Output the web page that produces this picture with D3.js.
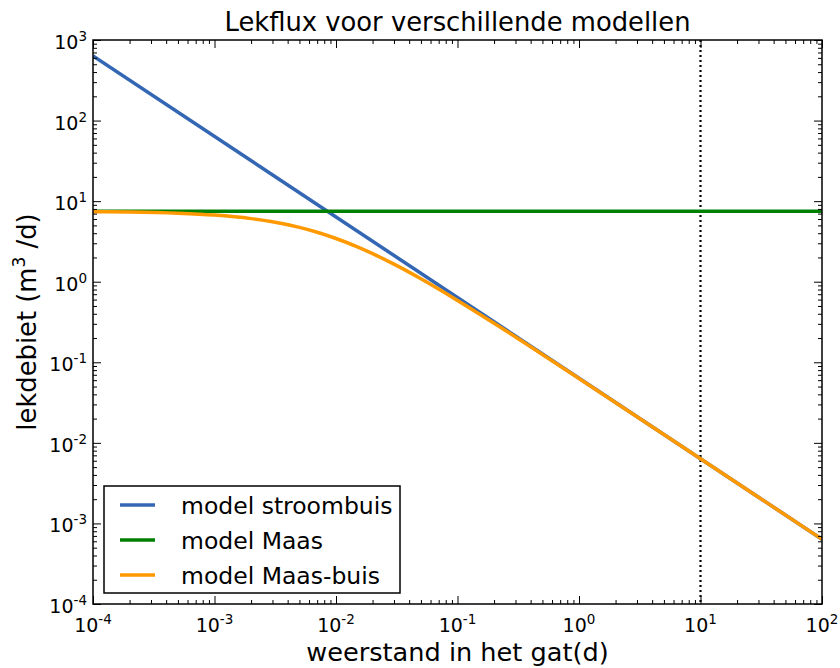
<!DOCTYPE html>
<html>
<head>
<meta charset="utf-8">
<script src="https://cdn.jsdelivr.net/npm/d3@7"></script>
<style>
  body { margin: 0; background: #fff; }
  text { font-family: "DejaVu Sans", sans-serif; fill: #000; }
</style>
</head>
<body>
<div id="graph1"></div>
<script>
// values
var xDecades = [1e-4, 1e-3, 1e-2, 1e-1, 1e0, 1e1, 1e2];
var xExp = ["-4", "-3", "-2", "-1", "0", "1", "2"];
var yDecades = [1e-4, 1e-3, 1e-2, 1e-1, 1e0, 1e1, 1e2, 1e3];
var yExp = ["-4", "-3", "-2", "-1", "0", "1", "2", "3"];

var stroomX = [1e-4, 1e2];
var stroomY = [636, 6.36e-4];

var maasX = [1e-4, 1e2];
var maasY = [7.5, 7.5];

var buisX = [1e-4, 2e-4, 5e-4, 1e-3, 2e-3, 3e-3, 5e-3, 7e-3, 1e-2, 1.5e-2, 2e-2, 3e-2, 5e-2, 0.1, 0.2, 0.5, 1, 10, 100];
var buisY = [7.41, 7.33, 7.08, 6.71, 6.07, 5.54, 4.72, 4.11, 3.44, 2.71, 2.23, 1.653, 1.088, 0.586, 0.305, 0.1251, 0.06307, 0.006355, 0.000636];

var markerX = 10;

var seriesNames = ["model stroombuis", "model Maas", "model Maas-buis"];
var colors = ["#3366b3", "#008000", "#ff9900"];

var margin = {top: 40, right: 18, bottom: 64, left: 93},
    width = 840 - margin.left - margin.right,
    height = 668 - margin.top - margin.bottom;

var svg = d3.select("#graph1")
  .append("svg")
    .attr("width", 840)
    .attr("height", 668);

var g = svg.append("g")
  .attr("transform", "translate(" + margin.left + "," + margin.top + ")");

var x = d3.scaleLog().domain([1e-4, 1e2]).range([0, width]);
var y = d3.scaleLog().domain([1e-4, 1e3]).range([height, 0]);

// minor ticks 2..9 in each decade
function minors(decs) {
  var out = [];
  decs.slice(0, -1).forEach(function(d) {
    for (var k = 2; k <= 9; k++) out.push(d * k);
  });
  return out;
}

g.append("clipPath").attr("id", "clip")
  .append("rect").attr("width", width).attr("height", height);

var plot = g.append("g").attr("clip-path", "url(#clip)");

var line = d3.line()
  .x(function(d) { return x(d[0]); })
  .y(function(d) { return y(d[1]); })
  .curve(d3.curveMonotoneX);

var series = [d3.zip(stroomX, stroomY), d3.zip(maasX, maasY), d3.zip(buisX, buisY)];

// dotted marker line
plot.append("line")
  .attr("x1", x(markerX)).attr("x2", x(markerX))
  .attr("y1", 0).attr("y2", height)
  .attr("stroke", "#000")
  .attr("stroke-width", 2.2)
  .attr("stroke-dasharray", "2,3");

series.forEach(function(s, i) {
  plot.append("path")
    .attr("d", line(s))
    .attr("fill", "none")
    .attr("stroke", colors[i])
    .attr("stroke-width", 3.5);
});

// axes: ticks pointing inward on all four sides
function styleAxis(sel) {
  sel.select(".domain").remove();
  sel.selectAll("line").attr("stroke", "#000").attr("stroke-width", 1);
  sel.selectAll("text").remove();
}

g.append("g").attr("transform", "translate(0," + height + ")")
  .call(d3.axisBottom(x).tickValues(xDecades).tickSize(-8).tickFormat("")).call(styleAxis);
g.append("g").attr("transform", "translate(0," + height + ")")
  .call(d3.axisBottom(x).tickValues(minors(xDecades)).tickSize(-4).tickFormat("")).call(styleAxis);
g.append("g")
  .call(d3.axisTop(x).tickValues(xDecades).tickSize(-8).tickFormat("")).call(styleAxis);
g.append("g")
  .call(d3.axisTop(x).tickValues(minors(xDecades)).tickSize(-4).tickFormat("")).call(styleAxis);
g.append("g")
  .call(d3.axisLeft(y).tickValues(yDecades).tickSize(-8).tickFormat("")).call(styleAxis);
g.append("g")
  .call(d3.axisLeft(y).tickValues(minors(yDecades)).tickSize(-4).tickFormat("")).call(styleAxis);
g.append("g").attr("transform", "translate(" + width + ",0)")
  .call(d3.axisRight(y).tickValues(yDecades).tickSize(-8).tickFormat("")).call(styleAxis);
g.append("g").attr("transform", "translate(" + width + ",0)")
  .call(d3.axisRight(y).tickValues(minors(yDecades)).tickSize(-4).tickFormat("")).call(styleAxis);

g.append("rect")
  .attr("width", width).attr("height", height)
  .attr("fill", "none").attr("stroke", "#000").attr("stroke-width", 1.5);

// tick labels with superscript exponents
xDecades.forEach(function(d, i) {
  var t = g.append("text")
    .attr("x", x(d)).attr("y", height + 28)
    .attr("text-anchor", "middle")
    .style("font-size", "19px");
  t.append("tspan").text("10");
  t.append("tspan").attr("dy", -8).style("font-size", "13.5px").text(xExp[i]);
});

yDecades.forEach(function(d, i) {
  var t = g.append("text")
    .attr("x", -6).attr("y", y(d) + 9)
    .attr("text-anchor", "end")
    .style("font-size", "19px");
  t.append("tspan").text("10");
  t.append("tspan").attr("dy", -8).style("font-size", "13.5px").text(yExp[i]);
});

// title and axis labels
svg.append("text")
  .attr("x", margin.left + width / 2).attr("y", 31)
  .attr("text-anchor", "middle")
  .style("font-size", "25.8px")
  .text("Lekflux voor verschillende modellen");

svg.append("text")
  .attr("x", margin.left + width / 2).attr("y", 661)
  .attr("text-anchor", "middle")
  .style("font-size", "25.6px")
  .text("weerstand in het gat(d)");

var yl = svg.append("text")
  .attr("transform", "translate(36," + (margin.top + height / 2) + ") rotate(-90)")
  .attr("text-anchor", "middle")
  .style("font-size", "25.8px");
yl.append("tspan").text("lekdebiet (m");
yl.append("tspan").attr("dy", -11).style("font-size", "17px").text("3");
yl.append("tspan").attr("dy", 11).text(" /d)");

// legend
var legend = g.append("g").attr("transform", "translate(11," + (height - 118) + ")");
legend.append("rect")
  .attr("width", 296).attr("height", 107)
  .attr("fill", "#fff").attr("stroke", "#000").attr("stroke-width", 1.5);
seriesNames.forEach(function(name, i) {
  var row = legend.append("g").attr("transform", "translate(0," + (19 + i * 35) + ")");
  row.append("line")
    .attr("x1", 16).attr("x2", 51)
    .attr("stroke", colors[i]).attr("stroke-width", 3.5);
  row.append("text")
    .attr("x", 77).attr("y", 8.5)
    .style("font-size", "23.5px")
    .text(name);
});
</script>
</body>
</html>
